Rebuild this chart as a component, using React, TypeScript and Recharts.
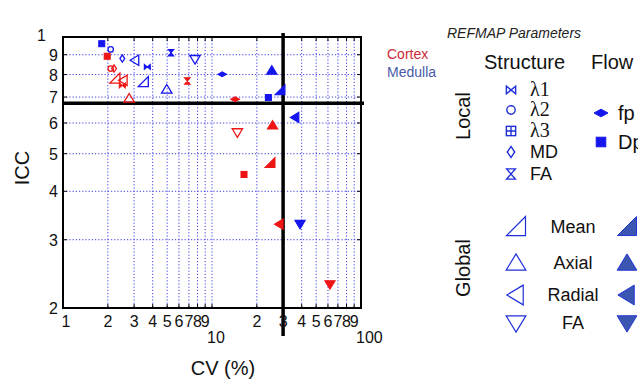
import React from 'react';
import { ScatterChart, Scatter, XAxis, YAxis, CartesianGrid, ReferenceLine, ReferenceArea } from 'recharts';

const markerTypes = ['l1', 'l2', 'l3', 'MD', 'FAl', 'fp', 'Dp', 'meanO', 'axialO', 'radialO', 'faO', 'meanF', 'axialF', 'radialF', 'faF'];
const cortexCV = [2.50, 2.09, 1.98, 2.20, 6.83, 14.3, 16.4, 2.23, 2.78, 2.54, 14.8, 24.5, 25.5, 28.3, 61.9];
const cortexICC = [0.750, 0.829, 0.892, 0.829, 0.770, 0.691, 0.442, 0.781, 0.695, 0.773, 0.567, 0.473, 0.592, 0.329, 0.230];
const medullaCV = [3.68, 2.09, 1.82, 2.50, 5.31, 11.7, 23.9, 3.46, 4.97, 3.04, 7.69, 28.6, 25.2, 36.1, 39.0];
const medullaICC = [0.837, 0.929, 0.961, 0.880, 0.911, 0.801, 0.698, 0.765, 0.733, 0.871, 0.876, 0.729, 0.820, 0.620, 0.329];

const xTicks = [1, 2, 3, 4, 5, 6, 7, 8, 9, 10, 20, 30, 40, 50, 60, 70, 80, 90, 100];
const xTickLabels = ['1', '2', '3', '4', '5', '6', '7', '8', '9', '10', '2', '3', '4', '5', '6', '7', '8', '9', '100'];
const yTicks = [0.2, 0.3, 0.4, 0.5, 0.6, 0.7, 0.8, 0.9, 1];
const yTickLabels = ['2', '3', '4', '5', '6', '7', '8', '9', '1'];
const iccThreshold = 0.675;
const cvThreshold = 30;

const localItems = [
  { type: 'l1', label: 'λ1', serif: true },
  { type: 'l2', label: 'λ2', serif: true },
  { type: 'l3', label: 'λ3', serif: true },
  { type: 'MD', label: 'MD', serif: false },
  { type: 'FAl', label: 'FA', serif: false },
];
const flowItems = [
  { type: 'fp', label: 'fp' },
  { type: 'Dp', label: 'Dp' },
];
const globalItems = [
  { open: 'meanO', filled: 'meanF', label: 'Mean' },
  { open: 'axialO', filled: 'axialF', label: 'Axial' },
  { open: 'radialO', filled: 'radialF', label: 'Radial' },
  { open: 'faO', filled: 'faF', label: 'FA' },
];

const RED = '#ee1515';
const BLUE = '#1515ee';
const SANS = '"Liberation Sans", Arial, sans-serif';
const SERIF = '"Liberation Serif", "Times New Roman", serif';

const cortexData = markerTypes.map((t, i) => ({ cv: cortexCV[i], icc: cortexICC[i], type: t }));
const medullaData = markerTypes.map((t, i) => ({ cv: medullaCV[i], icc: medullaICC[i], type: t }));

function glyph(type: string, x: number, y: number, k: number, stroke: string, fillColor: string, sw = 1.3, solidSmall = false) {
  const p = (pts: number[][]) => pts.map((q, i) => `${i ? 'L' : 'M'}${x + q[0] * k},${y + q[1] * k}`).join(' ') + ' Z';
  const open = { fill: 'none', stroke, strokeWidth: sw, strokeLinejoin: 'miter' as const };
  const filled = { fill: fillColor, stroke, strokeWidth: sw * 0.8, strokeLinejoin: 'miter' as const };
  switch (type) {
    case 'l1':
      return <path d={p([[-3, -2.5], [3, 2.5], [3, -2.5], [-3, 2.5]])} {...(solidSmall ? filled : open)} />;
    case 'l2':
      return <circle cx={x} cy={y} r={2.7 * k} {...open} />;
    case 'l3':
      if (solidSmall) {
        return <rect x={x - 3 * k} y={y - 3 * k} width={6 * k} height={6 * k} {...filled} />;
      }
      return (
        <g>
          <rect x={x - 3 * k} y={y - 3 * k} width={6 * k} height={6 * k} {...open} />
          <path d={`M${x - 3 * k},${y}H${x + 3 * k}M${x},${y - 3 * k}V${y + 3 * k}`} stroke={stroke} strokeWidth={sw} />
        </g>
      );
    case 'MD':
      return <path d={p([[0, -3.6], [2.4, 0], [0, 3.6], [-2.4, 0]])} {...open} />;
    case 'FAl':
      return <path d={p([[-2.8, -3.3], [2.8, -3.3], [-2.8, 3.3], [2.8, 3.3]])} {...(solidSmall ? filled : open)} />;
    case 'fp':
      return <path d={p([[-4.4, 0], [0, -2.4], [4.4, 0], [0, 2.4]])} {...filled} />;
    case 'Dp':
      return <rect x={x - 3 * k} y={y - 3 * k} width={6 * k} height={6 * k} {...filled} />;
    case 'meanO':
      return <path d={p([[-5, 4.5], [5, 4.5], [5, -5.5]])} {...open} />;
    case 'meanF':
      return <path d={p([[-5, 4.5], [5, 4.5], [5, -5.5]])} {...filled} />;
    case 'axialO':
      return <path d={p([[0, -4.8], [5.2, 3.8], [-5.2, 3.8]])} {...open} />;
    case 'axialF':
      return <path d={p([[0, -4.8], [5.2, 3.8], [-5.2, 3.8]])} {...filled} />;
    case 'radialO':
      return <path d={p([[-4.8, 0], [3.8, -5.2], [3.8, 5.2]])} {...open} />;
    case 'radialF':
      return <path d={p([[-4.8, 0], [3.8, -5.2], [3.8, 5.2]])} {...filled} />;
    case 'faO':
      return <path d={p([[0, 4.8], [5.2, -3.8], [-5.2, -3.8]])} {...open} />;
    case 'faF':
      return <path d={p([[0, 4.8], [5.2, -3.8], [-5.2, -3.8]])} {...filled} />;
    default:
      return <g />;
  }
}

const XTick = (props: any) => {
  const { x, y, payload } = props;
  const v = payload.value;
  const i = xTicks.indexOf(v);
  const label = xTickLabels[i];
  const second = v === 10 || v === 100;
  let tx = x;
  if (v === 1) tx = x + 3;
  return (
    <g>
      {v !== 1 && v !== 100 && <line x1={x} y1={y} x2={x} y2={y - 4} stroke="#000" strokeWidth={1} />}
      <text
        x={second ? x - 5 : tx}
        y={second ? y + 35 : y + 19}
        textAnchor={second ? 'start' : 'middle'}
        fontSize={16}
        fontFamily={SANS}
        fill="#111"
      >
        {label}
      </text>
    </g>
  );
};

const YTick = (props: any) => {
  const { x, y, payload } = props;
  const v = payload.value;
  const i = yTicks.findIndex((t) => Math.abs(t - v) < 1e-9);
  const label = yTickLabels[i];
  const isOne = Math.abs(v - 1) < 1e-9;
  return (
    <g>
      {!isOne && Math.abs(v - 0.2) > 1e-9 && <line x1={x} y1={y} x2={x + 4} y2={y} stroke="#000" strokeWidth={1} />}
      <text
        x={isOne ? x - 17 : x - 5}
        y={isOne ? y + 4 : y + 6}
        textAnchor="end"
        fontSize={16}
        fontFamily={SANS}
        fill="#111"
      >
        {label}
      </text>
    </g>
  );
};

const TopTick = (props: any) => {
  const { x, y, payload } = props;
  const v = payload.value;
  if (v === 1 || v === 100) return <g />;
  return <line x1={x} y1={y} x2={x} y2={y + 4} stroke="#000" strokeWidth={1} />;
};

const RightTick = (props: any) => {
  const { x, y, payload } = props;
  const v = payload.value;
  if (Math.abs(v - 1) < 1e-9 || Math.abs(v - 0.2) < 1e-9) return <g />;
  return <line x1={x} y1={y} x2={x - 4} y2={y} stroke="#000" strokeWidth={1} />;
};

const VLineShape = (props: any) => {
  const { x1, x2, y1, y2 } = props;
  const top = Math.min(y1, y2) - 4;
  const bottom = Math.max(y1, y2) + 28;
  return <line x1={x1} x2={x2} y1={top} y2={bottom} stroke="#000" strokeWidth={3.5} />;
};

const HLineShape = (props: any) => {
  const { x1, x2, y1, y2 } = props;
  const left = Math.min(x1, x2);
  const right = Math.max(x1, x2) + 3;
  return <line x1={left} x2={right} y1={y1} y2={y2} stroke="#000" strokeWidth={3.5} />;
};

const LegendOverlay = () => {
  const LB = '#1f2fd8';
  const LF = '#3a56b0';
  return (
    <svg width={638} height={382} style={{ position: 'absolute', left: 0, top: 0, pointerEvents: 'none' }}>
      <text x={447} y={38} fontSize={14} fontStyle="italic" fontFamily={SANS} fill="#222">REFMAP Parameters</text>
      <text x={387} y={59} fontSize={14} fontFamily={SANS} fill="#cc2a36">Cortex</text>
      <text x={387} y={77} fontSize={14} fontFamily={SANS} fill="#4a5aa8">Medulla</text>
      <text x={484} y={69} fontSize={20} fontFamily={SANS} fill="#111">Structure</text>
      <text x={591} y={69} fontSize={20} fontFamily={SANS} fill="#111">Flow</text>
      <text x={0} y={0} fontSize={20} fontFamily={SANS} fill="#111" textAnchor="middle"
        transform="translate(470,116) rotate(-90)">Local</text>
      {localItems.map((it, i) => {
        const yy = [90, 110, 131, 152, 174][i];
        return (
          <g key={it.type}>
            {glyph(it.type, 511, yy, 1.55, LB, LF, 1.4)}
            <text x={530} y={yy + 6} fontSize={it.serif ? 20 : 18} fontFamily={it.serif ? SERIF : SANS} fill="#111">{it.label}</text>
          </g>
        );
      })}
      {flowItems.map((it, i) => {
        const yy = [113, 142][i];
        return (
          <g key={it.type}>
            {glyph(it.type, 601, yy, 1.6, '#1515ee', '#1515ee', 1.2)}
            <text x={618} y={yy + 7} fontSize={20} fontFamily={SANS} fill="#111">{it.label}</text>
          </g>
        );
      })}
      <text x={0} y={0} fontSize={20} fontFamily={SANS} fill="#111" textAnchor="middle"
        transform="translate(470,268) rotate(-90)">Global</text>
      {globalItems.map((it, i) => {
        const yy = [227, 263, 295, 323][i];
        return (
          <g key={it.label}>
            {glyph(it.open, 516, yy, 1.9, LB, LF, 1.2)}
            <text x={573} y={yy + 6} fontSize={18} fontFamily={SANS} fill="#111" textAnchor="middle">{it.label}</text>
            {glyph(it.filled, 627, yy, 1.9, LB, LF, 1.2)}
          </g>
        );
      })}
      <text x={0} y={0} fontSize={20} fontFamily={SANS} fill="#111" textAnchor="middle"
        transform="translate(29,168) rotate(-90)">ICC</text>
      <text x={223} y={375} fontSize={20} fontFamily={SANS} fill="#111" textAnchor="middle">CV (%)</text>
    </svg>
  );
};

export default function App() {
  return (
    <div style={{ position: 'absolute', left: 0, top: 0, width: 638, height: 382, background: '#fff', fontFamily: SANS }}>
      <ScatterChart width={638} height={382} margin={{ top: 36, right: 276, bottom: 73, left: 62 }}>
        <CartesianGrid stroke="#3c3ce6" strokeDasharray="1.2 2" strokeWidth={1} />
        <XAxis dataKey="cv" type="number" scale="log" domain={[1, 100]} ticks={xTicks} allowDataOverflow
          height={1} axisLine={false} tickLine={false} tickSize={0} tickMargin={0} interval={0} tick={(p: any) => <XTick {...p} />} />
        <XAxis xAxisId="top" orientation="top" dataKey="cv" type="number" scale="log" domain={[1, 100]} ticks={xTicks} allowDataOverflow
          height={1} axisLine={false} tickLine={false} tickSize={0} tickMargin={0} interval={0} tick={(p: any) => <TopTick {...p} />} />
        <YAxis dataKey="icc" type="number" scale="log" domain={[0.2, 1]} ticks={yTicks} allowDataOverflow
          width={1} axisLine={false} tickLine={false} tickSize={0} tickMargin={0} interval={0} tick={(p: any) => <YTick {...p} />} />
        <YAxis yAxisId="right" orientation="right" dataKey="icc" type="number" scale="log" domain={[0.2, 1]} ticks={yTicks} allowDataOverflow
          width={1} axisLine={false} tickLine={false} tickSize={0} tickMargin={0} interval={0} tick={(p: any) => <RightTick {...p} />} />
        <ReferenceArea x1={1} x2={100} y1={0.2} y2={1} fill="none" fillOpacity={0} stroke="#000" strokeWidth={2} ifOverflow="visible" />
        <ReferenceLine y={iccThreshold} shape={(p: any) => <HLineShape {...p} />} ifOverflow="visible" />
        <ReferenceLine x={cvThreshold} shape={(p: any) => <VLineShape {...p} />} ifOverflow="visible" />
        <Scatter name="Cortex" data={cortexData} isAnimationActive={false}
          shape={(p: any) => glyph(p.payload.type, p.cx, p.cy, 1, RED, RED, 1.3, true)} />
        <Scatter name="Medulla" data={medullaData} isAnimationActive={false}
          shape={(p: any) => glyph(p.payload.type, p.cx, p.cy, 1, BLUE, BLUE, 1.3, true)} />
      </ScatterChart>
      <LegendOverlay />
    </div>
  );
}
